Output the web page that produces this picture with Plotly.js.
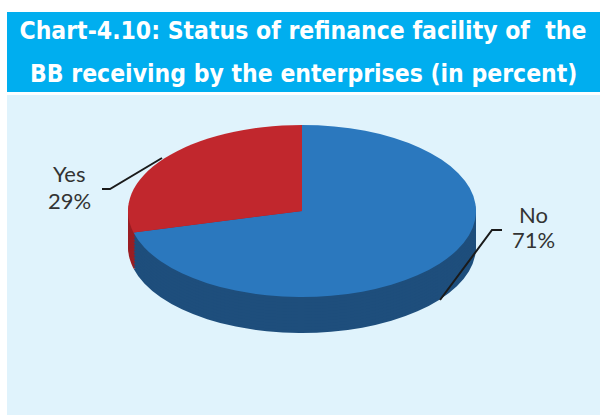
<!DOCTYPE html>
<html><head><meta charset="utf-8">
<script src="https://cdn.plot.ly/plotly-3.0.1.min.js"></script>
<style>html,body{margin:0;padding:0;background:#fff}#chart{width:600px;height:415px}</style>
</head><body><div id="chart"></div>
<script>
const labels = ['No', 'Yes'];
const values = [71, 29];
const topColors = ['#2B78BE', '#C1272D'];
const sideColors = ['#1E4E7C', '#9A1E23'];
const titleLines = ['Chart-4.10: Status of refinance facility of  the', 'BB receiving by the enterprises (in percent)'];

const W = 600, H = 415;
const px = x => x / W;
const py = y => 1 - y / H;
const cx = 302, topY = 125, faceH = 172, depth = 36, step = 3;
const rx = 174;

function pieAt(shift, colors) {
  return {
    type: 'pie', labels: labels, values: values, sort: false, direction: 'clockwise', rotation: 0,
    marker: {colors: colors, line: {width: 0}}, textinfo: 'none', hoverinfo: 'none', showlegend: false,
    domain: {x: [px(cx - faceH / 2), px(cx + faceH / 2)], y: [py(topY + faceH + shift), py(topY + shift)]}
  };
}
const traces = [];
for (let s = depth; s > 0; s -= step) traces.push(pieAt(s, sideColors));
traces.push(pieAt(0, topColors));

const titleFont = {family: 'DejaVu Sans Condensed, sans-serif', size: 24.5, color: '#ffffff'};
const labelFont = {family: 'Lato, Open Sans, sans-serif', size: 22, color: '#333333'};

const labelPos = [
  {x: 533, y1: 214, y2: 239, path: [[502, 230], [492, 230], [440, 300]]},
  {x: 69, y1: 173.5, y2: 200, path: [[102, 189], [110, 189], [162, 158]]}
];
const annotations = [{
  text: '<b>' + titleLines[1] + '</b>', xref: 'paper', yref: 'paper', x: px(303), y: py(73.5),
  xanchor: 'center', yanchor: 'middle', showarrow: false, font: titleFont
}];
const shapes = [
  {type: 'rect', xref: 'paper', yref: 'paper', x0: px(7), x1: 1, y0: py(92), y1: py(12), fillcolor: '#00AEEF', line: {width: 0}, layer: 'below'},
  {type: 'rect', xref: 'paper', yref: 'paper', x0: px(7), x1: 1, y0: 0, y1: py(95), fillcolor: '#E0F3FC', line: {width: 0}, layer: 'below'}
];
labels.forEach((lab, i) => {
  const p = labelPos[i];
  annotations.push({text: lab, xref: 'paper', yref: 'paper', x: px(p.x), y: py(p.y1), xanchor: 'center', yanchor: 'middle', showarrow: false, font: labelFont});
  annotations.push({text: values[i] + '%', xref: 'paper', yref: 'paper', x: px(p.x), y: py(p.y2), xanchor: 'center', yanchor: 'middle', showarrow: false, font: labelFont});
  shapes.push({type: 'path', xref: 'paper', yref: 'paper', layer: 'above',
    path: p.path.map((q, k) => (k ? 'L' : 'M') + px(q[0]) + ',' + py(q[1])).join(' '),
    line: {color: '#1a1a1a', width: 2}});
});

const layout = {
  width: W, height: H, margin: {l: 0, r: 0, t: 0, b: 0},
  paper_bgcolor: '#ffffff', showlegend: false,
  title: {text: '<b>' + titleLines[0] + '</b>', font: titleFont, xref: 'paper', yref: 'container', x: px(303), xanchor: 'center', y: py(30), yanchor: 'middle'},
  annotations: annotations, shapes: shapes
};

Plotly.newPlot('chart', traces, layout, {staticPlot: true, displayModeBar: false}).then(gd => {
  const sx = rx / (faceH / 2);
  gd.querySelectorAll('.pielayer').forEach(g => g.setAttribute('transform', 'translate(' + cx + ',0) scale(' + sx + ',1) translate(' + (-cx) + ',0)'));
});
</script>
</body></html>
